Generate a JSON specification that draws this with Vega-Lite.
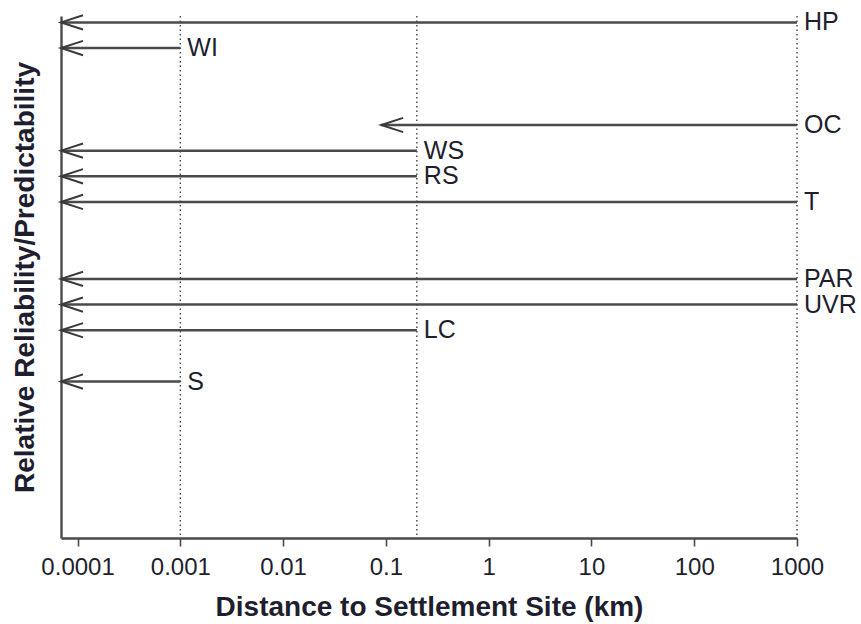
{
  "$schema": "https://vega.github.io/schema/vega-lite/v6.json",
  "width": 736,
  "height": 522,
  "autosize": {"type": "none"},
  "padding": {"left": 61, "top": 16, "right": 64, "bottom": 86},
  "background": "white",
  "config": {
    "view": {"stroke": null},
    "font": "Liberation Sans"
  },
  "datasets": {
    "arrows": [
      {"label": "HP", "start": 1000, "end": 0.000069, "level": 20},
      {"label": "WI", "start": 0.001, "end": 0.000069, "level": 19},
      {"label": "OC", "start": 1000, "end": 0.09, "level": 16},
      {"label": "WS", "start": 0.2, "end": 0.000069, "level": 15},
      {"label": "RS", "start": 0.2, "end": 0.000069, "level": 14},
      {"label": "T", "start": 1000, "end": 0.000069, "level": 13},
      {"label": "PAR", "start": 1000, "end": 0.000069, "level": 10},
      {"label": "UVR", "start": 1000, "end": 0.000069, "level": 9},
      {"label": "LC", "start": 0.2, "end": 0.000069, "level": 8},
      {"label": "S", "start": 0.001, "end": 0.000069, "level": 6}
    ],
    "guides": [
      {"distance": 0.001},
      {"distance": 0.2},
      {"distance": 1000}
    ]
  },
  "layer": [
    {
      "data": {"name": "guides"},
      "mark": {"type": "rule", "color": "#444444", "strokeWidth": 1.4, "strokeDash": [1.5, 3]},
      "encoding": {
        "x": {
          "field": "distance",
          "type": "quantitative",
          "scale": {"type": "log", "domain": [0.000069, 1000], "nice": false, "zero": false},
          "axis": {
            "title": "Distance to Settlement Site (km)",
            "values": [0.0001, 0.001, 0.01, 0.1, 1, 10, 100, 1000],
            "labelExpr": "datum.value < 1 ? format(datum.value, '~g') : format(datum.value, 'd')",
            "grid": false,
            "domainColor": "#4a4a4a",
            "domainWidth": 2.4,
            "tickColor": "#4a4a4a",
            "tickWidth": 1.6,
            "tickSize": 8,
            "labelPadding": 9,
            "labelFontSize": 24,
            "labelColor": "#1e1e2e",
            "labelFont": "Liberation Sans",
            "labelOverlap": false,
            "labelFlush": false,
            "titleFontSize": 28,
            "titleFontWeight": "bold",
            "titleColor": "#1e1e2e",
            "titleFont": "Liberation Sans",
            "titlePadding": 14
          }
        }
      }
    },
    {
      "data": {"name": "arrows"},
      "mark": {"type": "rule", "color": "#4a4a4a", "strokeWidth": 2.5},
      "encoding": {
        "x": {"field": "start", "type": "quantitative"},
        "x2": {"field": "end"},
        "y": {
          "field": "level",
          "type": "quantitative",
          "scale": {"domain": [-0.1, 20.25], "nice": false, "zero": false},
          "axis": {
            "title": "Relative Reliability/Predictability",
            "labels": false,
            "ticks": false,
            "grid": false,
            "domainColor": "#4a4a4a",
            "domainWidth": 2.4,
            "titleFontSize": 28,
            "titleFontWeight": "bold",
            "titleColor": "#1e1e2e",
            "titleFont": "Liberation Sans",
            "titlePadding": 22
          }
        }
      }
    },
    {
      "data": {"name": "arrows"},
      "mark": {"type": "point", "shape": "M2,-0.65L0,0L2,0.65", "filled": false, "size": 484, "stroke": "#3a3a3a", "strokeWidth": 2, "opacity": 1},
      "encoding": {
        "x": {"field": "end", "type": "quantitative"},
        "y": {"field": "level", "type": "quantitative"}
      }
    },
    {
      "data": {"name": "arrows"},
      "mark": {"type": "text", "align": "left", "baseline": "middle", "dx": 7, "fontSize": 25, "color": "#1e1e2e", "font": "Liberation Sans"},
      "encoding": {
        "x": {"field": "start", "type": "quantitative"},
        "y": {"field": "level", "type": "quantitative"},
        "text": {"field": "label"}
      }
    }
  ]
}
